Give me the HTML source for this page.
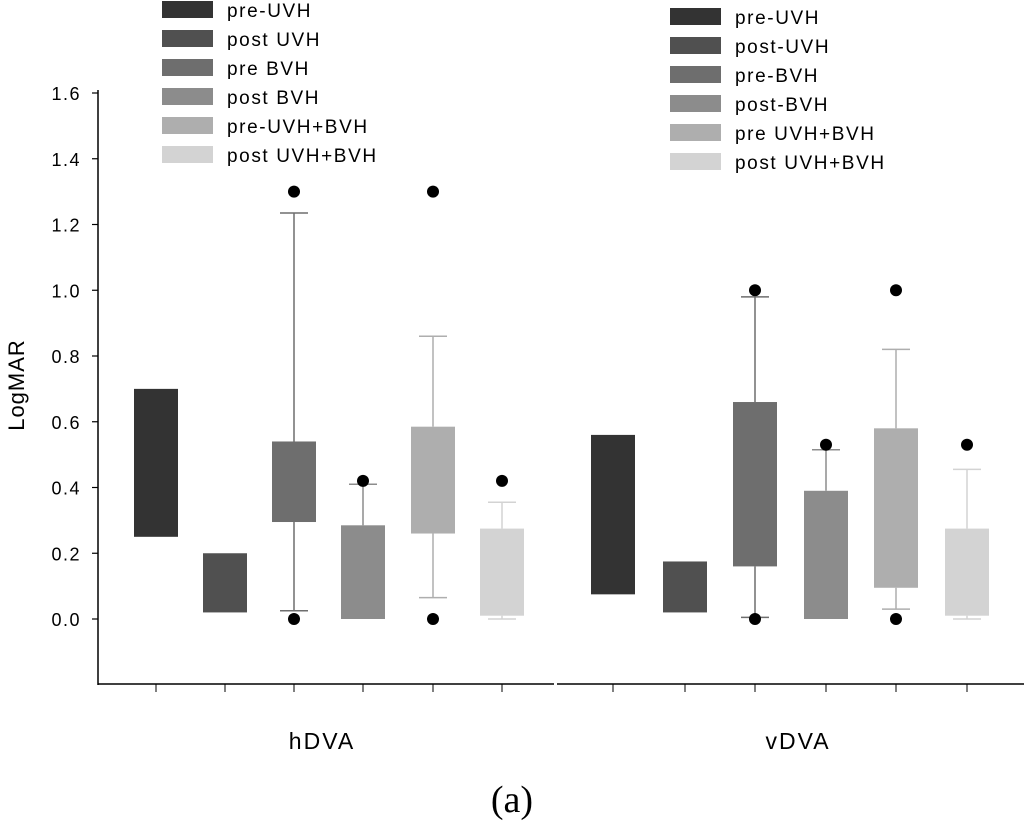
<!DOCTYPE html>
<html><head><meta charset="utf-8"><style>body{margin:0;background:#fff}svg{display:block}</style></head>
<body>
<svg id="c" width="1024" height="824" xmlns="http://www.w3.org/2000/svg" font-family="Liberation Sans, Arial, sans-serif">
<g id="plot"></g>
<text x="0" y="0" transform="translate(24,385) rotate(-90)" text-anchor="middle" font-size="22" letter-spacing="1">LogMAR</text>
<text x="322" y="749" text-anchor="middle" font-size="23" letter-spacing="2">hDVA</text>
<text x="798" y="749" text-anchor="middle" font-size="23" letter-spacing="2">vDVA</text>
<text x="512" y="812" text-anchor="middle" font-size="38" font-family="Liberation Serif, serif">(a)</text>
</svg>
<script>
const yTicks = [0, 0.2, 0.4, 0.6, 0.8, 1.0, 1.2, 1.4, 1.6];
const seriesColors = ['#333333','#505050','#6e6e6e','#8c8c8c','#aeaeae','#d3d3d3'];
const legend1 = ['pre-UVH','post UVH','pre BVH','post BVH','pre-UVH+BVH','post UVH+BVH'];
const legend2 = ['pre-UVH','post-UVH','pre-BVH','post-BVH','pre UVH+BVH','post UVH+BVH'];
// [q1, q3, whiskerLow, whiskerHigh] (null = no whisker)
const hBoxes = [[0.25,0.70,null,null],[0.02,0.20,null,null],[0.295,0.54,0.025,1.235],[0.0,0.285,null,0.41],[0.26,0.585,0.065,0.86],[0.01,0.275,0.0,0.355]];
const vBoxes = [[0.075,0.56,null,null],[0.02,0.175,null,null],[0.16,0.66,0.005,0.98],[0.0,0.39,null,0.515],[0.095,0.58,0.03,0.82],[0.01,0.275,0.0,0.455]];
const hOutliers = [[],[],[0,1.30],[0.42],[0,1.30],[0.42]];
const vOutliers = [[],[],[0,1.0],[0.53],[0,1.0],[0.53]];
const hX = [156,225,294,363,433,502];
const vX = [613,685,755,826,896,967];

const NS='http://www.w3.org/2000/svg';
const plot=document.getElementById('plot');
const svg=document.getElementById('c');
function y(v){return 619-v*328.75;}
function mk(tag,a,parent){const e=document.createElementNS(NS,tag);for(const k in a)e.setAttribute(k,a[k]);(parent||plot).appendChild(e);return e;}

let e;
e=mk('line',{x1:98,y1:90,x2:98,y2:685,stroke:'#000','stroke-width':1.5});


e=mk('line',{x1:98,y1:684,x2:554,y2:684,stroke:'#000','stroke-width':1.5});


e=mk('line',{x1:557,y1:684,x2:1024,y2:684,stroke:'#000','stroke-width':1.5});


yTicks.forEach(t=>{
  e=mk('line',{x1:92,y1:y(t),x2:98,y2:y(t),stroke:'#000','stroke-width':1.2});
  
  
  e=mk('text',{x:81,y:y(t)+7,'text-anchor':'end','font-size':18,'letter-spacing':1.5});
  e.textContent=t.toFixed(1);
  
  
});
hX.concat(vX).forEach(x=>{
  e=mk('line',{x1:x,y1:684,x2:x,y2:692,stroke:'#000','stroke-width':1});
  
  
});
function drawGroup(boxes,outs,xs,g){
  boxes.forEach((b,i)=>{
    const c=seriesColors[i],x=xs[i];
    if(b[3]!=null){
      e=mk('line',{x1:x,y1:y(b[3]),x2:x,y2:y(b[1]),stroke:c,'stroke-width':1.5});
      
      
      e=mk('line',{x1:x-14,y1:y(b[3]),x2:x+14,y2:y(b[3]),stroke:c,'stroke-width':1.5});
      
      
    }
    if(b[2]!=null){
      e=mk('line',{x1:x,y1:y(b[0]),x2:x,y2:y(b[2]),stroke:c,'stroke-width':1.5});
      
      
      e=mk('line',{x1:x-14,y1:y(b[2]),x2:x+14,y2:y(b[2]),stroke:c,'stroke-width':1.5});
      
      
    }
    e=mk('rect',{x:x-22,y:y(b[1]),width:44,height:y(b[0])-y(b[1]),fill:c});
    
    
    outs[i].forEach(o=>{
      e=mk('circle',{cx:x,cy:y(o),r:6,fill:'#000'});
      
      
    });
  });
}
drawGroup(hBoxes,hOutliers,hX,'hdva');
drawGroup(vBoxes,vOutliers,vX,'vdva');
function legend(labels,sx,sy,tag){
  labels.forEach((l,i)=>{
    const yy=sy+i*29;
    e=mk('rect',{x:sx,y:yy,width:51,height:17,fill:seriesColors[i]},svg);
    
    
    e=mk('text',{x:sx+65,y:yy+16,'font-size':19,'letter-spacing':1.6},svg);
    e.textContent=l;
    
    
  });
}
legend(legend1,162,1,'legend-hdva');
legend(legend2,670,8,'legend-vdva');
</script>
</body></html>
